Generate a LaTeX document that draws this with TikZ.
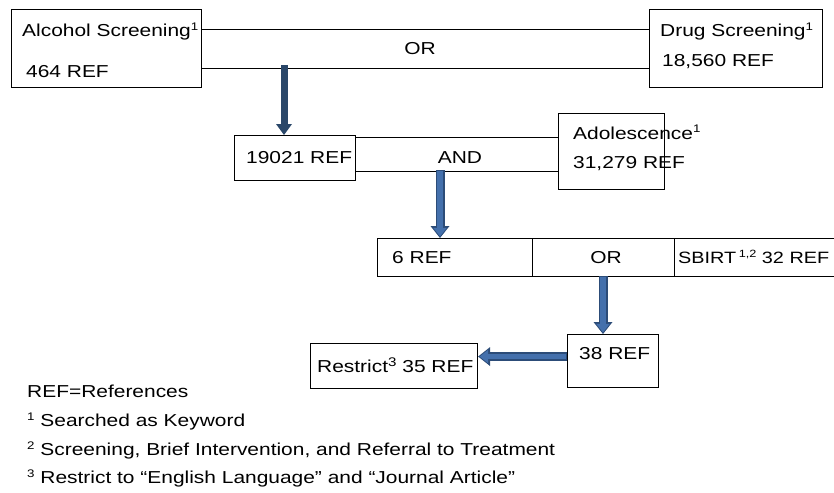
\documentclass[tikz,border=0pt]{standalone}
\usepackage{fontspec}
\setmainfont{Liberation Sans}[FakeStretch=1.21]
\usetikzlibrary{arrows.meta,calc}
\definecolor{navy}{HTML}{2A4769}
\definecolor{arrowdark}{HTML}{2C4C78}
\definecolor{arrowlight}{HTML}{4470AC}
\newcommand\supa[1]{\raisebox{6pt}{\fontsize{11}{11}\selectfont #1}}
\newcommand\supb[1]{\raisebox{6pt}{\fontsize{12.5}{12.5}\selectfont #1}}
\begin{document}
\begin{tikzpicture}[x=1pt,y=-1pt,
  box/.style={draw=black,line width=1.1pt,anchor=north west,inner sep=0pt},
  txt/.style={font=\fontsize{17.3}{20}\selectfont,inner sep=0pt,anchor=base west},
  ctxt/.style={font=\fontsize{17.3}{20}\selectfont,inner sep=0pt,anchor=base},
  conn/.style={line width=1.1pt},
  bigarrow/.style={line width=7pt,draw=navy,
    -{Triangle[width=16pt,length=11pt,line width=0pt 0 0,fill=navy]}},
  outerarrow/.style={line width=9pt,draw=arrowdark,
    -{Triangle[width=19pt,length=12pt,line width=0pt 0 0,fill=arrowdark]}},
  innerarrow/.style={line width=5.5pt,draw=arrowlight,shorten >=1.6pt,shorten <=1pt,
    -{Triangle[width=13.5pt,length=8.5pt,line width=0pt 0 0,fill=arrowlight]}}]
\useasboundingbox (0,0) rectangle (834,492);

% row 1
\node[box,minimum width=190pt,minimum height=78pt] (alc) at (11,9) {};
\node[box,minimum width=173pt,minimum height=78pt] (drug) at (649,9) {};
\node[txt] (alct1) at (22,37) {Alcohol Screening\supa{1}};
\node[txt] (alct2) at (26,78) {464 REF};
\node[txt] (drugt1) at (660,37) {Drug Screening\supa{1}};
\node[txt] (drugt2) at (662,67) {18,560 REF};
\coordinate (or1a) at ([yshift=19pt]alc.east);
\coordinate (or1b) at ([yshift=-20pt]alc.east);
\draw[conn] (or1a) -- (drug.west |- or1a);
\draw[conn] (or1b) -- (drug.west |- or1b);
\node[ctxt] (or1) at (420,55) {OR};

% row 2
\node[box,minimum width=121pt,minimum height=45pt] (b19) at (234,135) {};
\node[box,minimum width=106pt,minimum height=76pt] (adol) at (558,113) {};
\node[txt] (b19t) at (246,163) {19021 REF};
\node[txt] (adolt1) at (573,139) {Adolescence\supa{1}};
\node[txt] (adolt2) at (573,168) {31,279 REF};
\coordinate (anda) at ([yshift=20.5pt]b19.east);
\coordinate (andb) at ([yshift=-13.5pt]b19.east);
\draw[conn] (anda) -- (adol.west |- anda);
\draw[conn] (andb) -- (adol.west |- andb);
\node[ctxt] (and) at (460,163) {AND};

% arrow 1
\coordinate (a1s) at (284,65);
\draw[bigarrow] (a1s) -- (a1s |- b19.north);

% row 3
\node[box,minimum width=155pt,minimum height=38pt] (c6) at (377,238) {};
\node[box,minimum width=142pt,minimum height=38pt] (orbox) at (532,238) {};
\node[box,minimum width=175pt,minimum height=38pt] (sbirt) at (674,238) {};
\node[txt] (c6t) at (392,263) {6 REF};
\node[ctxt] (or2) at (606,263) {OR};
\node[txt,font=\fontsize{16.4}{19}\selectfont] (sbirtt) at (678,263) {SBIRT\hspace{2.5pt}{\raisebox{6pt}{\fontsize{10.5}{10.5}\selectfont 1,2}} 32 REF};

% arrow 2
\coordinate (a2s) at (440,170);
\draw[outerarrow] (a2s) -- (a2s |- c6.north);
\draw[innerarrow] (a2s) -- (a2s |- c6.north);

% row 4
\node[box,minimum width=91pt,minimum height=53pt] (n38) at (567,334) {};
\node[box,minimum width=167pt,minimum height=45pt] (restr) at (310,343) {};
\node[txt] (n38t) at (579,359) {38 REF};
\node[txt] (restrt) at (317,372) {Restrict\supb{3} 35 REF};

% arrow 3
\coordinate (a3s) at (603,276);
\draw[outerarrow] (a3s) -- (a3s |- n38.north);
\draw[innerarrow] (a3s) -- (a3s |- n38.north);

% arrow 4
\coordinate (a4s) at ([yshift=4.5pt]n38.west);
\draw[outerarrow] (a4s) -- (restr.east |- a4s);
\draw[innerarrow] (a4s) -- (restr.east |- a4s);

% footnotes
\node[txt] (fn0) at (27,397) {REF=References};
\node[txt] (fn1) at (27,426) {\supa{1} Searched as Keyword};
\node[txt] (fn2) at (27,455) {\supa{2} Screening, Brief Intervention, and Referral to Treatment};
\node[txt] (fn3) at (27,483) {\supa{3} Restrict to “English Language” and “Journal Article”};
\end{tikzpicture}
\end{document}
